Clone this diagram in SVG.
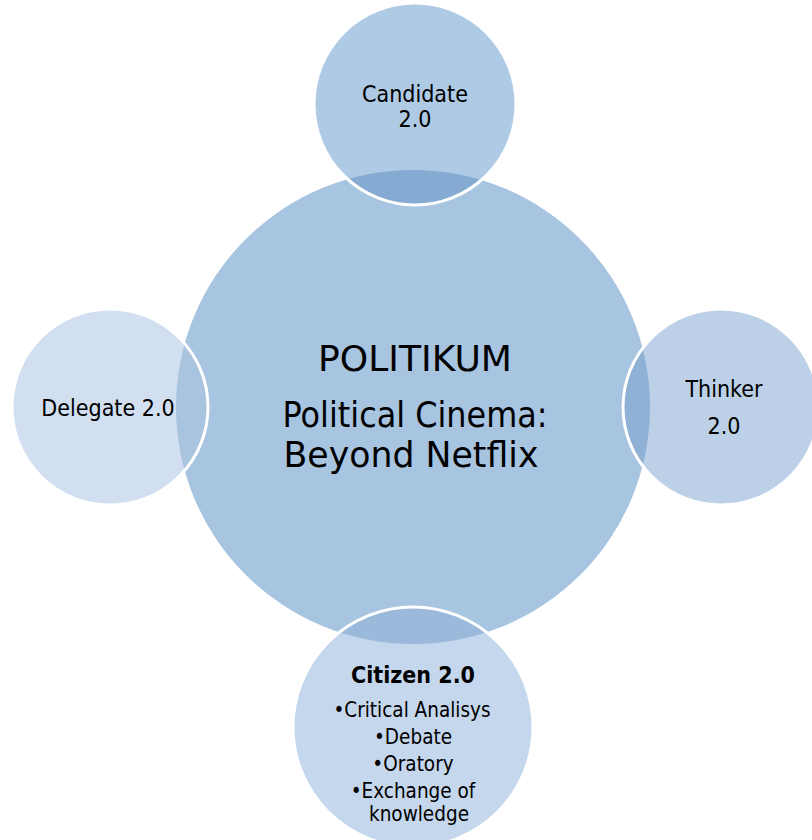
<svg xmlns="http://www.w3.org/2000/svg" width="812" height="840" viewBox="0 0 812 840">
<style>
.lbl{font-family:"DejaVu Sans Condensed","DejaVu Sans","Liberation Sans",sans-serif;font-size:23px;fill:#000;text-anchor:middle}
.ctr{font-family:"DejaVu Sans","Liberation Sans",sans-serif;font-size:36px;fill:#000;text-anchor:middle}
.bul{font-family:"DejaVu Sans Condensed","DejaVu Sans","Liberation Sans",sans-serif;font-size:20.5px;fill:#000;text-anchor:middle}
.edge{fill:none;stroke:#fff;stroke-width:3}
</style>
<defs>
<clipPath id="cc"><circle cx="413" cy="407" r="237"/></clipPath>
</defs>
<g id="center">
<circle cx="413" cy="407" r="237" fill="#A7C4E0"/>
</g>
<g id="connectors"></g>
<g id="candidate">
<circle cx="415" cy="104" r="101" fill="#AFCAE4"/>
<circle cx="415" cy="104" r="101" fill="#86ABD2" clip-path="url(#cc)"/>
<circle class="edge" cx="415" cy="104" r="101"/>
<text class="lbl" x="415" y="102">Candidate</text>
<text class="lbl" x="415" y="127">2.0</text>
</g>
<g id="delegate">
<circle cx="110" cy="407" r="98" fill="#D1DFF0"/>
<circle cx="110" cy="407" r="98" fill="#A9C4DF" clip-path="url(#cc)"/>
<circle class="edge" cx="110" cy="407" r="98"/>
<text class="lbl" x="108" y="416">Delegate 2.0</text>
</g>
<g id="thinker">
<circle cx="721" cy="407" r="98" fill="#BCD0E7"/>
<circle cx="721" cy="407" r="98" fill="#8FB1D5" clip-path="url(#cc)"/>
<circle class="edge" cx="721" cy="407" r="98"/>
<text class="lbl" x="724" y="397">Thinker</text>
<text class="lbl" x="724" y="434">2.0</text>
</g>
<g id="citizen">
<circle cx="413" cy="727" r="120" fill="#C5D7EC"/>
<circle cx="413" cy="727" r="120" fill="#9BBADB" clip-path="url(#cc)"/>
<circle class="edge" cx="413" cy="727" r="120"/>
<text class="lbl" x="413" y="683" font-weight="bold" font-size="24">Citizen 2.0</text>
<text class="bul" x="412" y="717">•Critical Analisys</text>
<text class="bul" x="413" y="744">•Debate</text>
<text class="bul" x="413" y="771">•Oratory</text>
<text class="bul" x="413" y="798">•Exchange of</text>
<text class="bul" x="419" y="821">knowledge</text>
</g>
<g id="center-text">
<text class="ctr" x="415" y="371" textLength="194" lengthAdjust="spacingAndGlyphs">POLITIKUM</text>
<text class="ctr" x="415" y="427" textLength="265" lengthAdjust="spacingAndGlyphs">Political Cinema:</text>
<text class="ctr" x="411" y="467" textLength="255" lengthAdjust="spacingAndGlyphs">Beyond Netflix</text>
</g>
</svg>
